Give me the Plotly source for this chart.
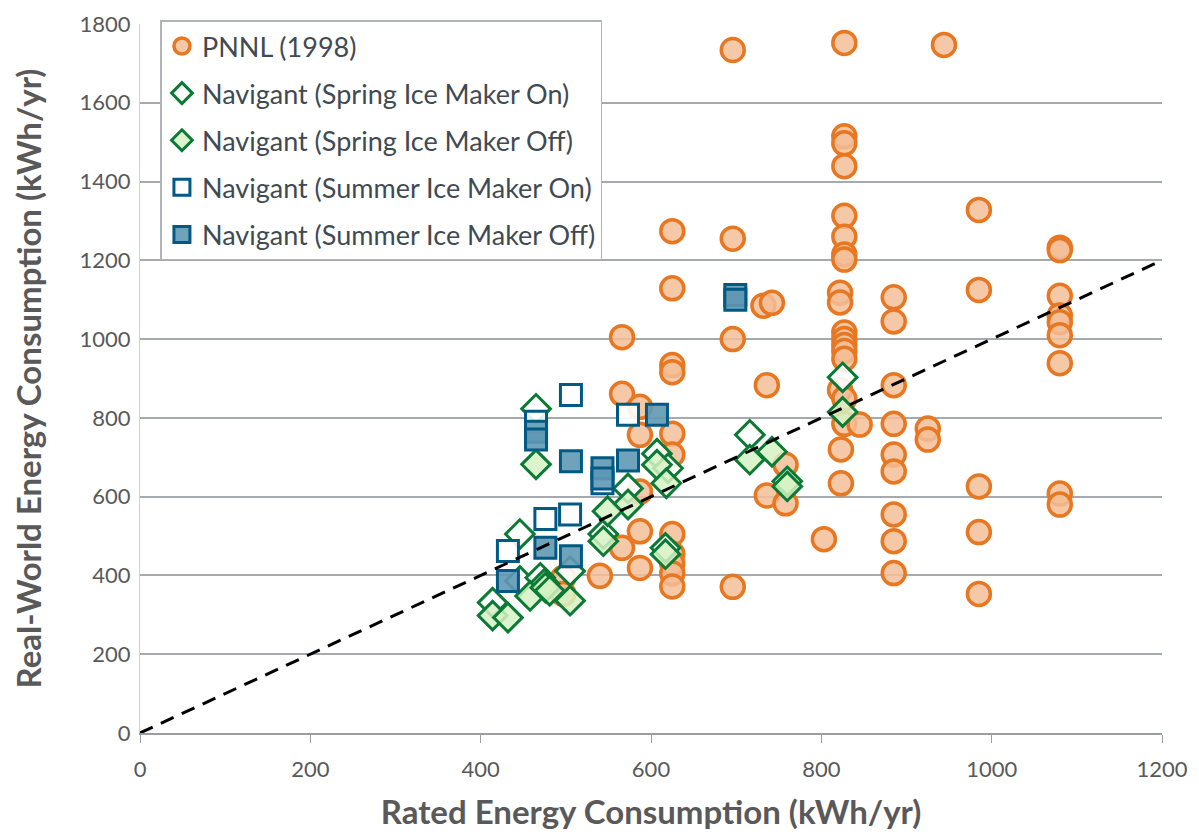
import plotly.graph_objects as go

# PNNL (1998) survey points
pnnl_x = [566, 566, 566,
          587, 587, 587, 587, 587,
          540, 497, 497,
          625, 625, 625, 625, 625, 625, 625, 625, 625, 625, 625,
          696, 696, 696, 696,
          732, 742, 736, 736,
          758, 758, 803,
          827, 827, 827, 827, 827, 827, 827, 827, 822, 822, 827, 827, 827, 827, 827,
          822, 827, 827, 823, 823, 845,
          885, 885, 885, 885, 885, 885, 885, 885, 885,
          925, 925, 944,
          985, 985, 985, 985, 985,
          1080, 1080, 1080, 1080, 1080, 1080, 1080, 1080, 1080]
pnnl_y = [1005, 861, 470,
          828, 757, 613, 512, 419,
          399, 394, 353,
          1274, 1129, 934, 916, 760, 707, 505, 455, 430, 405, 372,
          1734, 1255, 1000, 371,
          1085, 1092, 883, 603,
          681, 583, 492,
          1752, 1515, 1497, 1439, 1313, 1260, 1215, 1202, 1118, 1093, 1017, 1000, 985, 970, 950,
          871, 849, 785, 720, 634, 783,
          1106, 1045, 883, 785, 707, 664, 555, 487, 406,
          773, 745, 1747,
          1328, 1125, 626, 510, 353,
          1232, 1226, 1110, 1060, 1043, 1010, 939, 608, 580]

# Navigant spring, ice maker on / off
spr_on_x = [465, 716, 825, 607, 620, 573, 544, 617, 505, 446, 414, 446, 470]
spr_on_y = [823, 757, 903, 709, 672, 621, 505, 470, 411, 505, 331, 386, 394]
spr_off_x = [465, 716, 742, 760, 760, 825, 607, 618, 573, 549, 544, 617, 505, 475, 414, 432, 458, 476, 481]
spr_off_y = [682, 694, 714, 639, 626, 815, 681, 634, 580, 563, 487, 454, 336, 379, 298, 293, 348, 369, 361]

# Navigant summer, ice maker on / off
sum_on_x = [465, 506, 573, 543, 505, 476, 432]
sum_on_y = [790, 858, 808, 634, 555, 543, 462]
sum_off_x = [465, 465, 699, 699, 607, 506, 573, 543, 543, 476, 506, 432]
sum_off_y = [765, 745, 1112, 1100, 808, 690, 692, 672, 646, 470, 449, 386]

# 1:1 reference line
ref_x = [0, 1200]
ref_y = [0, 1200]

fig = go.Figure()

fig.add_trace(go.Scatter(
    x=pnnl_x, y=pnnl_y, mode='markers', name='PNNL (1998)', legendgroup='a',
    marker=dict(symbol='circle', size=23, color='rgba(243,190,152,0.85)',
                line=dict(color='#E87722', width=3.5))))
fig.add_trace(go.Scatter(
    x=spr_on_x, y=spr_on_y, mode='markers', name='Navigant (Spring Ice Maker On)', legendgroup='b',
    marker=dict(symbol='diamond', size=22, color='rgba(255,255,255,0.9)',
                line=dict(color='#0A7A35', width=3))))
fig.add_trace(go.Scatter(
    x=spr_off_x, y=spr_off_y, mode='markers', name='Navigant (Spring Ice Maker Off)', legendgroup='c',
    marker=dict(symbol='diamond', size=22, color='rgba(214,242,196,0.85)',
                line=dict(color='#0A7A35', width=3))))
fig.add_trace(go.Scatter(
    x=sum_on_x, y=sum_on_y, mode='markers', name='Navigant (Summer Ice Maker On)', legendgroup='d',
    marker=dict(symbol='square', size=21, color='rgba(255,255,255,0.9)',
                line=dict(color='#005A84', width=3))))
fig.add_trace(go.Scatter(
    x=sum_off_x, y=sum_off_y, mode='markers', name='Navigant (Summer Ice Maker Off)', legendgroup='e',
    marker=dict(symbol='square', size=21, color='rgba(95,152,180,0.9)',
                line=dict(color='#005A84', width=3))))
fig.add_trace(go.Scatter(
    x=ref_x, y=ref_y, mode='lines', showlegend=False, hoverinfo='skip',
    line=dict(color='black', width=3, dash='14px,9px')))

fig.update_layout(
    width=1191, height=827,
    margin=dict(l=132, r=37, t=12, b=102),
    paper_bgcolor='white', plot_bgcolor='white',
    font=dict(family='Lato', size=22, color='#595959'),
    legend=dict(x=0.02, y=1.005, xanchor='left', yanchor='top',
                bgcolor='white', bordercolor='#B0B4B8', borderwidth=1.5,
                font=dict(size=27, color='#3F4A52'),
                itemsizing='trace', traceorder='grouped', tracegroupgap=9),
    xaxis=dict(range=[0, 1200], dtick=200, showgrid=False, zeroline=False,
               showline=True, linecolor='#9A9EA3', linewidth=1.5,
               ticks='outside', ticklen=8, tickcolor='#9A9EA3', automargin=False,
               ticklabelstandoff=8,
               title=dict(text='<b>Rated Energy Consumption (kWh/yr)</b>', standoff=20,
                          font=dict(size=33, color='#595959'))),
    yaxis=dict(range=[0, 1800], dtick=200, showgrid=True, gridcolor='#A6A9AD',
               gridwidth=1.5, zeroline=False, automargin=False,
               showline=True, linecolor='#D0D3D6', linewidth=1,
               ticks='', ticklabelstandoff=4,
               title=dict(text='<b>Real-World Energy Consumption (kWh/yr)</b>', standoff=30,
                          font=dict(size=33, color='#595959'))),
)

fig.write_html("out.html")
